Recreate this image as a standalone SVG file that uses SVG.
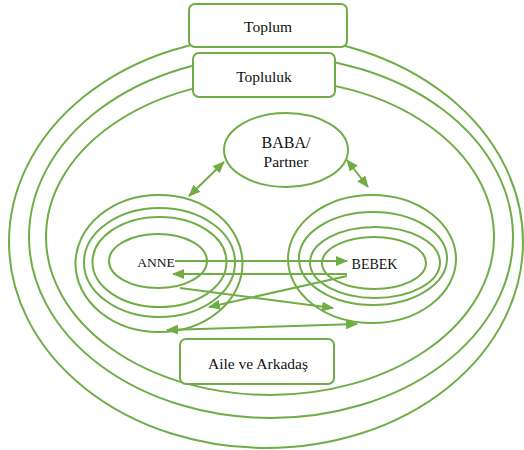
<svg xmlns="http://www.w3.org/2000/svg" width="524" height="450" viewBox="0 0 524 450">
<style>
.ln{fill:none;stroke:#70AD47;stroke-width:2}
.box{fill:#fff;stroke:#70AD47;stroke-width:2}
.ar{fill:none;stroke:#70AD47;stroke-width:2;marker-end:url(#ah)}
.ar2{fill:none;stroke:#70AD47;stroke-width:2;marker-start:url(#ah);marker-end:url(#ah)}
.t{font-family:'Liberation Serif','DejaVu Serif',serif;fill:#111;text-anchor:middle}
</style>
<defs>
<marker id="ah" markerUnits="userSpaceOnUse" markerWidth="12" markerHeight="10" refX="11" refY="5" orient="auto-start-reverse" viewBox="0 0 12 10">
<path d="M0,0 L12,5 L0,10 z" fill="#70AD47"/>
</marker>
</defs>
<g id="rings">
<ellipse class="ln" cx="266" cy="242" rx="257" ry="206"/>
<ellipse class="ln" cx="271" cy="237" rx="242" ry="181"/>
<ellipse class="ln" cx="270" cy="237" rx="224" ry="158"/>
</g>
<g id="toplum">
<rect class="box" x="189" y="4" width="158" height="43" rx="6"/>
<text class="t" font-family="Liberation Serif, serif" x="268" y="32" font-size="15.5">Toplum</text>
</g>
<g id="topluluk">
<rect class="box" x="193" y="53" width="142" height="44" rx="6"/>
<text class="t" font-family="Liberation Serif, serif" x="264" y="82" font-size="15.5">Topluluk</text>
</g>
<g id="aile">
<rect class="box" x="180" y="339" width="154" height="45" rx="6"/>
<text class="t" font-family="Liberation Serif, serif" x="258" y="369" font-size="15.5">Aile ve Arkadaş</text>
</g>
<g id="baba">
<ellipse class="box" cx="286" cy="150" rx="62" ry="37"/>
<text class="t" font-family="Liberation Serif, serif" x="286" y="148" font-size="16">BABA/</text>
<text class="t" font-family="Liberation Serif, serif" x="286" y="167" font-size="15.5">Partner</text>
</g>
<g id="anne">
<ellipse class="ln" cx="159" cy="263.5" rx="83.5" ry="68.5"/>
<ellipse class="ln" cx="159.5" cy="262.5" rx="75.5" ry="54.5"/>
<ellipse class="ln" cx="159.5" cy="262" rx="67" ry="45"/>
<ellipse class="ln" cx="158" cy="261" rx="49" ry="27"/>
<text class="t" font-family="Liberation Serif, serif" x="156" y="267" font-size="13.5">ANNE</text>
</g>
<g id="bebek">
<ellipse class="ln" cx="372" cy="259" rx="84" ry="64"/>
<ellipse class="ln" cx="373" cy="258.5" rx="74" ry="46.5"/>
<ellipse class="ln" cx="375" cy="262.5" rx="65" ry="35.5"/>
<ellipse class="ln" cx="374" cy="263" rx="52" ry="26"/>
<text class="t" font-family="Liberation Serif, serif" x="374.5" y="269" font-size="14">BEBEK</text>
</g>
<g id="connectors">
<line class="ar" x1="175" y1="261" x2="347" y2="261"/>
<line class="ar" x1="347" y1="274" x2="173" y2="274"/>
<line class="ar" x1="180" y1="288" x2="333" y2="308"/>
<line class="ar" x1="347" y1="276" x2="209" y2="307"/>
<line class="ar2" x1="167" y1="330" x2="357" y2="324"/>
<line class="ar2" x1="189" y1="196" x2="224" y2="162"/>
<line class="ar2" x1="347" y1="160" x2="368" y2="187"/>
</g>
</svg>
